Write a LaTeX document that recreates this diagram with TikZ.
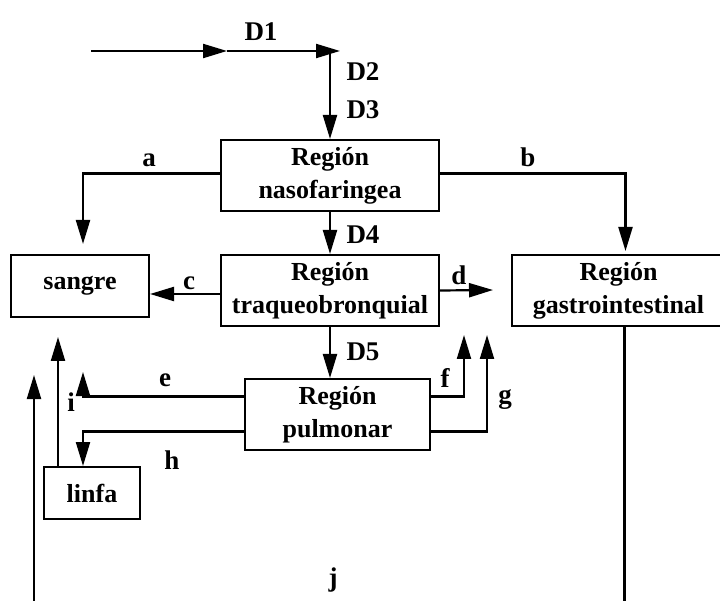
\documentclass[tikz,border=0pt]{standalone}
\usepackage{fontspec}
\setmainfont{Liberation Serif}
\usetikzlibrary{arrows.meta}

\begin{document}
\begin{tikzpicture}[x=1pt, y=-1pt, line width=2.2pt,
    region/.style={draw, line width=2pt, align=center, inner sep=0pt, font=\fontsize{26}{33}\selectfont\bfseries},
    lbl/.style={font=\fontsize{27}{30}\selectfont\bfseries},
    flow/.style={-{Triangle[length=24pt,width=14pt]}}]
    \useasboundingbox (0,0) rectangle (720,601);
    \clip (0,0) rectangle (720,601);

    % Compartimentos
    \node[region, minimum width=218, minimum height=71] (naso) at (330,175.5) {Región\\nasofaringea};
    \node[region, minimum width=218, minimum height=71] (traq) at (330,290.5) {Región\\traqueobronquial};
    \node[region, minimum width=138, minimum height=62] (sangre) at (80,286) {sangre};
    \node[region, minimum width=213, minimum height=71] (gastro) at (618.5,290.5) {Región\\gastrointestinal};
    \node[region, minimum width=185, minimum height=71] (pulm) at (337.5,414.5) {Región\\pulmonar};
    \node[region, minimum width=96, minimum height=52] (linfa) at (92,493) {linfa};

    \coordinate (src) at (91,51);
    \coordinate (mid) at (227,51);
    \coordinate (cnr) at (340,51);
    \coordinate (dEnd) at (493,290);
    \coordinate (eTip) at (83,372);
    \coordinate (iTip) at (58,337);
    \coordinate (fTip) at (464,335);
    \coordinate (gTip) at (487,335);
    \coordinate (jTip) at (34,375);

    % Deposito
    \draw[flow] (src) -- (mid);
    \draw[flow] (mid) -- (cnr);
    \draw[flow] (naso.north |- cnr) -- (naso.north);
    \draw[flow] (naso.south) -- (traq.north);
    \draw[flow] (traq.south) -- (traq.south |- pulm.north);

    % Transferencias
    \draw[flow, shorten >=10pt] ([yshift=2pt]naso.west) -| ([xshift=3pt]sangre.north);
    \draw[flow, shorten >=3pt] ([yshift=2pt]naso.east) -| ([xshift=7pt]gastro.north);
    \draw[flow] ([yshift=-3.5pt]traq.west) -- ([yshift=-3.5pt]traq.west -| sangre.east);
    \draw[flow] (traq.east) -- (dEnd);
    \draw[flow] ([yshift=18pt]pulm.west) -| (eTip);
    \draw[flow] ([yshift=-17pt]pulm.west) -| ([xshift=-9pt]linfa.north);
    \draw[flow] ([xshift=-34pt]linfa.north) -- (iTip);
    \draw[flow] ([yshift=18pt]pulm.east) -| (fTip);
    \draw[flow] ([yshift=-17pt]pulm.east) -| (gTip);
    \draw[flow] ([xshift=6pt]gastro.south) -- ++(0,320) -| (jTip);

    % Etiquetas
    \node[lbl] (lD1) at (261,32) {D1};
    \node[lbl] (lD2) at (363,72) {D2};
    \node[lbl] (lD3) at (363,110) {D3};
    \node[lbl] (lD4) at (363,235) {D4};
    \node[lbl] (lD5) at (363,352) {D5};
    \node[lbl] (la) at (149,160) {a};
    \node[lbl] (lb) at (528,157) {b};
    \node[lbl] (lc) at (189,283) {c};
    \node[lbl] (ld) at (459,275) {d};
    \node[lbl] (le) at (165,380) {e};
    \node[lbl] (lf) at (445,378) {f};
    \node[lbl] (lg) at (505,400) {g};
    \node[lbl] (lh) at (172,460) {h};
    \node[lbl] (li) at (71,402) {i};
    \node[lbl] (lj) at (333,580) {j};
\end{tikzpicture}
\end{document}
